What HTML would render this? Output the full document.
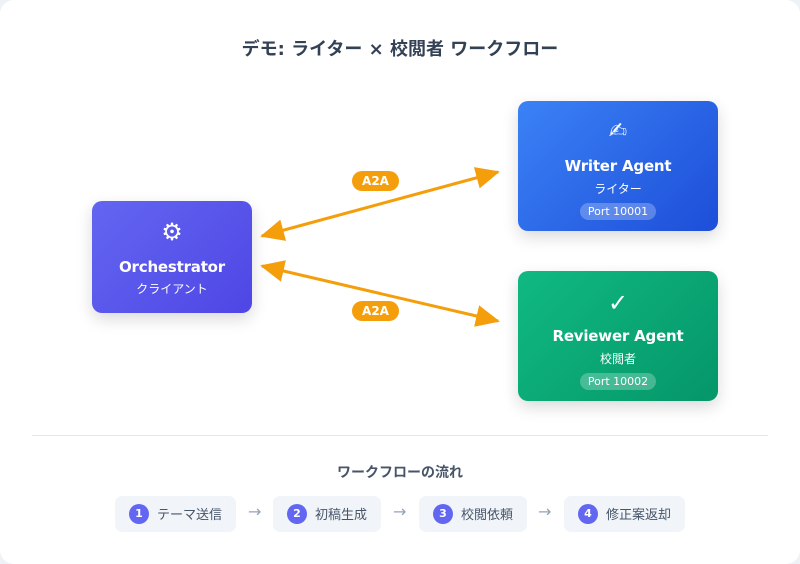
<!DOCTYPE html>
<html><head><meta charset="utf-8"><style>
*{margin:0;padding:0;box-sizing:border-box}
body{width:800px;height:564px;background:#eef1f5;font-family:"Liberation Sans","DejaVu Sans","Noto Sans CJK JP",sans-serif;overflow:hidden}
.card{position:absolute;left:0;top:0;width:800px;height:564px;background:#fff;border-radius:14px}
.t{position:absolute;left:0;width:800px;text-align:center;color:#334155;font-weight:bold}
.node{position:absolute;border-radius:10px;color:#fff;text-align:center;box-shadow:0 6px 16px rgba(0,0,0,.15)}
.node .ic{position:absolute;left:0;width:100%;font-size:24px}
.node .nm{position:absolute;left:0;width:100%;font-size:15px;font-weight:bold;font-family:"DejaVu Sans",sans-serif;letter-spacing:-0.2px}
.node .sub{position:absolute;left:0;width:100%;font-size:12px;font-family:"Noto Sans CJK JP",sans-serif}
.port{position:absolute;left:62px;width:76px;height:17px;border-radius:9px;background:rgba(255,255,255,.25);font-size:11px;line-height:17px;font-family:"DejaVu Sans",sans-serif}
.lbl{position:absolute;width:47px;height:20px;border-radius:10px;background:#f59e0b;color:#fff;font-size:12px;font-weight:bold;text-align:center;line-height:20px;font-family:"DejaVu Sans",sans-serif}
.step{position:absolute;top:496px;height:36px;background:#f1f5f9;border-radius:7px;font-size:13px;color:#475569;line-height:36px;font-family:"Noto Sans CJK JP",sans-serif}
.step b{position:absolute;left:14px;top:8px;width:20px;height:20px;border-radius:50%;background:#6366f1;color:#fff;font-size:11px;line-height:20px;text-align:center;font-family:"DejaVu Sans",sans-serif}
.step span{position:absolute;left:42px}
.ar{position:absolute;top:502px;color:#94a3b8;font-size:16px;font-family:"DejaVu Sans",sans-serif}
</style></head><body>
<div class="card"></div>
<div class="t" style="top:35px;font-size:18px;font-family:'DejaVu Sans','Noto Sans CJK JP',sans-serif">デモ: ライター × 校閲者 ワークフロー</div>

<svg style="position:absolute;left:0;top:0" width="800" height="564">
<defs><marker id="a1" markerWidth="26" markerHeight="22" refX="22" refY="11" orient="auto-start-reverse" markerUnits="userSpaceOnUse"><path d="M0,0 L24,11 L0,22z" fill="#f59e0b"/></marker></defs>
<g stroke="#f59e0b" stroke-width="3" fill="none">
<line x1="262" y1="236" x2="498" y2="172" marker-start="url(#a1)" marker-end="url(#a1)"/>
<line x1="262" y1="266" x2="498" y2="321" marker-start="url(#a1)" marker-end="url(#a1)"/>
</g>
</svg>
<div class="lbl" style="left:352px;top:171px">A2A</div>
<div class="lbl" style="left:352px;top:301px">A2A</div>

<div class="node" style="left:92px;top:201px;width:160px;height:112px;background:linear-gradient(135deg,#6366f1,#4f46e5)">
<div class="ic" style="top:17px">⚙</div>
<div class="nm" style="top:57px">Orchestrator</div>
<div class="sub" style="top:79px">クライアント</div>
</div>
<div class="node" style="left:518px;top:101px;width:200px;height:130px;background:linear-gradient(135deg,#3b82f6,#1d4ed8)">
<div class="ic" style="top:17px;font-size:22px">✍</div>
<div class="nm" style="top:56px">Writer Agent</div>
<div class="sub" style="top:79px">ライター</div>
<div class="port" style="top:102px">Port 10001</div>
</div>
<div class="node" style="left:518px;top:271px;width:200px;height:130px;background:linear-gradient(135deg,#10b981,#059669)">
<div class="ic" style="top:18px">✓</div>
<div class="nm" style="top:56px">Reviewer Agent</div>
<div class="sub" style="top:79px">校閲者</div>
<div class="port" style="top:102px">Port 10002</div>
</div>

<div style="position:absolute;left:32px;top:435px;width:736px;height:1px;background:#e2e8f0"></div>
<div class="t" style="top:462px;font-size:14px;color:#475569;font-family:'Noto Sans CJK JP',sans-serif">ワークフローの流れ</div>

<div class="step" style="left:115px;width:121px"><b>1</b><span>テーマ送信</span></div>
<div class="ar" style="left:248px">→</div>
<div class="step" style="left:273px;width:108px"><b>2</b><span>初稿生成</span></div>
<div class="ar" style="left:393px">→</div>
<div class="step" style="left:419px;width:108px"><b>3</b><span>校閲依頼</span></div>
<div class="ar" style="left:538px">→</div>
<div class="step" style="left:564px;width:121px"><b>4</b><span>修正案返却</span></div>
</body></html>
